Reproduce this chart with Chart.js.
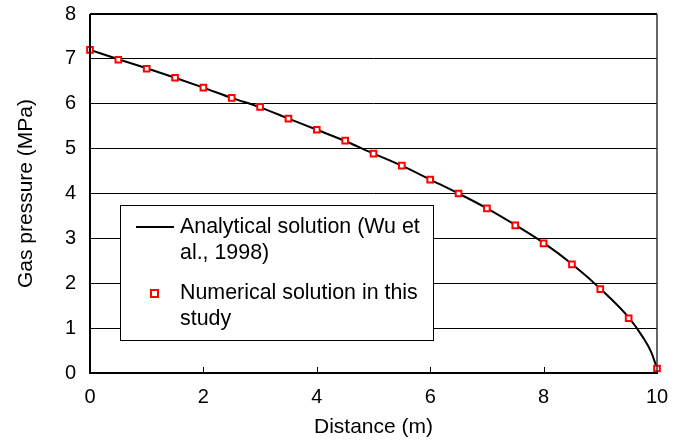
<!DOCTYPE html>
<html lang="en">
<head>
    <meta charset="UTF-8">
    <title>Gas pressure vs distance</title>
    <script src="https://cdn.jsdelivr.net/npm/chart.js"></script>
    <style>
        body {
            margin: 0;
            background: #fff;
        }

        .chart-box {
            position: relative;
            width: 683px;
            height: 444px;
        }
    </style>
</head>
<body>
    <div class="chart-box">
        <canvas id="pressureChart"></canvas>
    </div>

    <script>
        // analytical curve
        const lineX = [0, 0.5, 1, 1.5, 2, 2.5, 3, 3.5, 4, 4.5, 5, 5.5, 6, 6.5, 7, 7.5, 8, 8.5, 9, 9.5, 9.75, 9.9, 10];
        const lineY = [7.2, 6.99, 6.79, 6.58, 6.36, 6.13, 5.92, 5.67, 5.42, 5.17, 4.89, 4.62, 4.31, 4.0, 3.67, 3.3, 2.9, 2.43, 1.88, 1.24, 0.8, 0.46, 0.1];

        // numerical solution markers
        const pointX = [0, 0.5, 1, 1.5, 2, 2.5, 3, 3.5, 4, 4.5, 5, 5.5, 6, 6.5, 7, 7.5, 8, 8.5, 9, 9.5, 10];
        const pointY = [7.2, 6.98, 6.78, 6.58, 6.36, 6.13, 5.93, 5.67, 5.42, 5.18, 4.89, 4.62, 4.31, 4.0, 3.67, 3.29, 2.89, 2.42, 1.87, 1.22, 0.1];

        const xTicks = [0, 2, 4, 6, 8, 10];
        const yTicks = [0, 1, 2, 3, 4, 5, 6, 7, 8];

        const legendLines = [
            ['Analytical solution (Wu et', 'al., 1998)'],
            ['Numerical solution in this', 'study']
        ];

        const font = 'Liberation Sans, Arial, sans-serif';

        const toPoints = (xs, ys) => xs.map((x, i) => ({ x: x, y: ys[i] }));

        // frame, inward x ticks and the boxed legend
        const framePlugin = {
            id: 'frame',
            afterDraw(chart) {
                const { ctx, chartArea: a, scales } = chart;
                ctx.save();

                ctx.strokeStyle = '#000';
                ctx.lineWidth = 2;
                ctx.beginPath();
                ctx.moveTo(a.left, a.top);
                ctx.lineTo(a.right, a.top);
                ctx.moveTo(a.left, a.top);
                ctx.lineTo(a.left, a.bottom);
                ctx.moveTo(a.left - 1, a.bottom);
                ctx.lineTo(a.right + 1, a.bottom);
                ctx.stroke();

                ctx.lineWidth = 1.5;
                ctx.strokeStyle = '#333';
                ctx.beginPath();
                ctx.moveTo(a.right, a.top);
                ctx.lineTo(a.right, a.bottom);
                ctx.stroke();

                ctx.lineWidth = 1;
                ctx.strokeStyle = '#000';
                xTicks.slice(1, -1).forEach(v => {
                    const px = Math.round(scales.x.getPixelForValue(v)) + 0.5;
                    ctx.beginPath();
                    ctx.moveTo(px, a.bottom);
                    ctx.lineTo(px, a.bottom - 6);
                    ctx.stroke();
                });

                // legend box
                const bx = 120.5, by = 205.5, bw = 313, bh = 135;
                ctx.fillStyle = '#fff';
                ctx.fillRect(bx, by, bw, bh);
                ctx.strokeStyle = '#000';
                ctx.lineWidth = 1;
                ctx.strokeRect(bx, by, bw, bh);

                ctx.font = '21.4px ' + font;
                ctx.fillStyle = '#000';
                ctx.textBaseline = 'middle';
                ctx.textAlign = 'left';

                ctx.lineWidth = 2;
                ctx.beginPath();
                ctx.moveTo(136, 227);
                ctx.lineTo(174, 227);
                ctx.stroke();
                ctx.fillText(legendLines[0][0], 180, 227);
                ctx.fillText(legendLines[0][1], 180, 253);

                ctx.strokeStyle = '#ff0000';
                ctx.lineWidth = 2;
                ctx.fillStyle = '#fff';
                ctx.fillRect(151, 290, 7, 7);
                ctx.strokeRect(151, 290, 7, 7);
                ctx.fillStyle = '#000';
                ctx.fillText(legendLines[1][0], 180, 293);
                ctx.fillText(legendLines[1][1], 180, 319);

                ctx.restore();
            }
        };

        new Chart(document.getElementById('pressureChart'), {
            type: 'scatter',
            data: {
                datasets: [
                    {
                        label: 'Numerical solution in this study',
                        data: toPoints(pointX, pointY),
                        showLine: false,
                        pointStyle: 'rect',
                        pointRadius: 4,
                        borderColor: '#ff0000',
                        backgroundColor: '#ffffff',
                        borderWidth: 2,
                        clip: false,
                        order: 0
                    },
                    {
                        label: 'Analytical solution (Wu et al., 1998)',
                        data: toPoints(lineX, lineY),
                        showLine: true,
                        borderColor: '#000',
                        borderWidth: 2,
                        pointRadius: 0,
                        cubicInterpolationMode: 'monotone',
                        clip: false,
                        order: 1
                    }
                ]
            },
            options: {
                responsive: true,
                maintainAspectRatio: false,
                animation: false,
                layout: {
                    padding: { top: 14, right: 26, left: 0, bottom: 0 }
                },
                scales: {
                    x: {
                        type: 'linear',
                        min: 0,
                        max: 10,
                        afterBuildTicks: axis => { axis.ticks = xTicks.map(v => ({ value: v })); },
                        afterFit: axis => {
                            axis.height = 71;
                            axis.paddingLeft = 0;
                            axis.paddingRight = 0;
                        },
                        grid: { display: false },
                        border: { display: false },
                        ticks: {
                            color: '#000',
                            font: { family: font, size: 20 },
                            padding: 4
                        },
                        title: {
                            display: true,
                            text: 'Distance (m)',
                            color: '#000',
                            font: { family: font, size: 21 },
                            padding: { top: 0, bottom: 4 }
                        }
                    },
                    y: {
                        min: 0,
                        max: 8,
                        afterBuildTicks: axis => { axis.ticks = yTicks.map(v => ({ value: v })); },
                        afterFit: axis => {
                            axis.width = 90;
                            axis.paddingTop = 0;
                            axis.paddingBottom = 0;
                        },
                        grid: {
                            color: '#000',
                            lineWidth: 1,
                            drawTicks: false
                        },
                        border: { display: false },
                        ticks: {
                            color: '#000',
                            font: { family: font, size: 20 },
                            padding: 14
                        },
                        title: {
                            display: true,
                            text: 'Gas pressure (MPa)',
                            color: '#000',
                            font: { family: font, size: 21 },
                            padding: { top: 14, bottom: 0 }
                        }
                    }
                },
                plugins: {
                    legend: { display: false },
                    tooltip: { enabled: false }
                }
            },
            plugins: [framePlugin]
        });
    </script>
</body>
</html>
